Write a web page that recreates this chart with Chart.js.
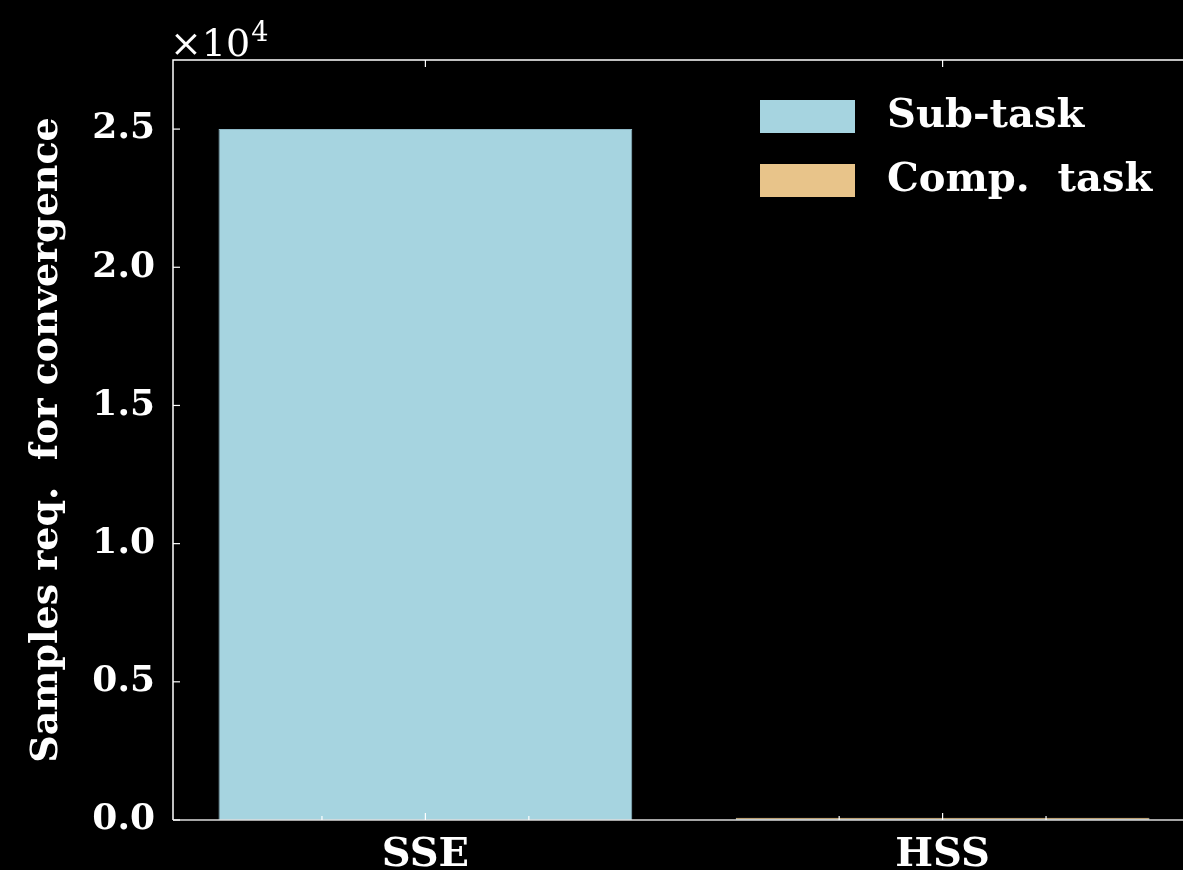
<!DOCTYPE html>
<html>
<head>
<meta charset="utf-8">
<script src="https://cdn.jsdelivr.net/npm/chart.js@4.4.1/dist/chart.umd.min.js"></script>
<style>
  html, body { margin: 0; padding: 0; background: #000; overflow: hidden; }
  #wrap { position: relative; width: 1200px; height: 870px; }
</style>
</head>
<body>
<div id="wrap"><canvas id="chart"></canvas></div>
<script>
const methods = ['SSE', 'HSS'];
const subTask = [25000, 40];
const compTask = [0, 40];
const yTicks = [0, 5000, 10000, 15000, 20000, 25000];

const serif = '"DejaVu Serif", serif';

// inward ticks on the spines + the x10^4 offset text + legend box
const frame = {
  id: 'frame',
  afterDraw(chart) {
    const { ctx, chartArea: a, scales } = chart;
    const x = scales.x, y = scales.y;
    ctx.save();
    ctx.strokeStyle = '#fff';
    ctx.lineWidth = 1.5;
    ctx.beginPath();
    ctx.moveTo(a.left, a.bottom); ctx.lineTo(a.left, a.top); ctx.lineTo(a.right, a.top);
    ctx.stroke();
    ctx.strokeStyle = '#ddd';
    ctx.beginPath();
    ctx.moveTo(a.left, a.bottom); ctx.lineTo(a.right, a.bottom);
    ctx.stroke();

    ctx.lineWidth = 1.2;
    ctx.strokeStyle = '#fff';
    yTicks.forEach(v => {
      const p = y.getPixelForValue(v);
      ctx.beginPath(); ctx.moveTo(a.left, p); ctx.lineTo(a.left + 7, p); ctx.stroke();
    });
    methods.forEach((m, i) => {
      const p = x.getPixelForValue(i);
      ctx.beginPath(); ctx.moveTo(p, a.bottom); ctx.lineTo(p, a.bottom - 7); ctx.stroke();
      ctx.beginPath(); ctx.moveTo(p, a.top); ctx.lineTo(p, a.top + 7); ctx.stroke();
      [-0.2, 0.2].forEach(d => {
        const q = x.getPixelForValue(i + d);
        ctx.beginPath(); ctx.moveTo(q, a.bottom); ctx.lineTo(q, a.bottom - 4); ctx.stroke();
      });
    });

    // offset text
    ctx.fillStyle = '#fff';
    ctx.textBaseline = 'alphabetic';
    ctx.font = '38px ' + serif;
    ctx.fillText('\u00d710', a.left - 3, a.top - 4);
    const w = ctx.measureText('\u00d710').width;
    ctx.font = '27px ' + serif;
    ctx.fillText('4', a.left - 3 + w + 1, a.top - 19);

    // legend
    ctx.font = 'bold 40px ' + serif;
    ctx.textBaseline = 'middle';
    chart.data.datasets.forEach((ds, i) => {
      const top = 100 + i * 64;
      ctx.fillStyle = ds.backgroundColor;
      ctx.fillRect(760, top, 95, 33);
      ctx.fillStyle = '#fff';
      ctx.fillText(ds.label, 887, top + 17);
    });
    ctx.restore();
  }
};

new Chart(document.getElementById('chart'), {
  type: 'bar',
  data: {
    datasets: [
      { label: 'Sub-task', data: subTask.map((v, i) => ({ x: i, y: v })), backgroundColor: '#a6d4e0', borderColor: '#8fb9c7', borderWidth: 1 },
      { label: 'Comp.  task', data: compTask.map((v, i) => ({ x: i, y: v })), backgroundColor: '#e8c48a', borderColor: '#cdc9b6', borderWidth: 1 }
    ]
  },
  options: {
    responsive: true,
    maintainAspectRatio: false,
    animation: false,
    layout: { padding: { top: 60, right: 5, left: 0, bottom: 0 } },
    categoryPercentage: 0.8,
    barPercentage: 1,
    plugins: { legend: { display: false }, tooltip: { enabled: false } },
    scales: {
      x: {
        type: 'linear',
        min: -0.488,
        max: 1.488,
        offset: false,
        stacked: true,
        grid: { display: false },
        border: { display: false },
        afterBuildTicks: s => { s.ticks = methods.map((m, i) => ({ value: i })); },
        afterFit: s => { s.height = 50; },
        ticks: {
          color: '#fff',
          padding: 4,
          font: { family: serif, size: 40, weight: 'bold' },
          callback: v => methods[v]
        }
      },
      y: {
        min: 0,
        max: 27500,
        stacked: true,
        grid: { display: false },
        border: { display: false },
        afterBuildTicks: s => { s.ticks = yTicks.map(v => ({ value: v })); },
        afterFit: s => { s.width = 173; },
        title: {
          display: true,
          text: 'Samples req.  for convergence',
          color: '#fff',
          padding: { top: 24, bottom: 0 },
          font: { family: serif, size: 38, weight: 'bold' }
        },
        ticks: {
          color: '#fff',
          padding: 10,
          font: { family: serif, size: 36, weight: 'bold' },
          callback: v => (v / 10000).toFixed(1)
        }
      }
    }
  },
  plugins: [frame]
});
</script>
</body>
</html>
